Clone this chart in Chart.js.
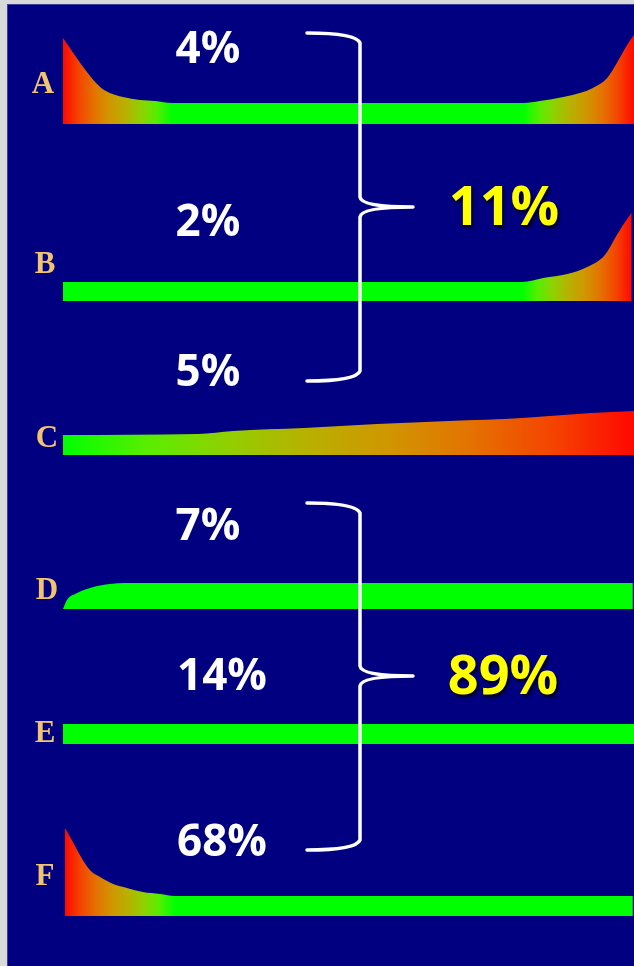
<!DOCTYPE html>
<html>
<head>
<meta charset="utf-8">
<script src="https://cdn.jsdelivr.net/npm/chart.js@4"></script>
<style>
    html, body { margin: 0; padding: 0; }
    body { width: 634px; height: 966px; background: #d9d9d9; position: relative; overflow: hidden; }
    #panel { position: absolute; left: 7px; top: 4px; width: 627px; height: 962px; background: #000080;
             border-left: 1px solid #3c3c9c; border-top: 1px solid #3c3c9c; box-sizing: border-box; }
    .band { position: absolute; left: 63px; }
    .letter { position: absolute; font-family: "Liberation Serif", "DejaVu Serif", serif; font-weight: bold;
              font-size: 31px; color: #f2c46e; transform: translate(-50%, -50%); line-height: 1; }
    .pct { position: absolute; font-family: "Open Sans", sans-serif; font-weight: bold; font-size: 44px;
           color: #ffffff; transform: translate(-50%, -50%); line-height: 1; }
    .total { position: absolute; font-family: "Open Sans", sans-serif; font-weight: bold; font-size: 54px;
             color: #ffff00; transform: translate(-50%, -50%); line-height: 1;
             text-shadow: 2px 3px 3px rgba(0, 0, 0, 0.7); }
    svg { position: absolute; left: 0; top: 0; }
</style>
</head>
<body>
<div id="panel"></div>
<div id="bands"></div>
<svg width="634" height="966">
    <path d="M307,33 Q356,33 360,43 L360,197 Q361,207 413,207 M413,207 Q361,207 360,217 L360,371 Q356,381 307,381"
          fill="none" stroke="#ffffff" stroke-width="3.5" stroke-linecap="round" stroke-linejoin="round"/>
    <path d="M307,503 Q356,503 360,513 L360,666 Q361,676 413,676 M413,676 Q361,676 360,686 L360,840 Q356,850 307,850"
          fill="none" stroke="#ffffff" stroke-width="3.5" stroke-linecap="round" stroke-linejoin="round"/>
</svg>
<div id="labels"></div>
<script>
    // band names and shares
    const bandNames = ["A", "B", "C", "D", "E", "F"];
    const bandShares = ["4%", "2%", "5%", "7%", "14%", "68%"];
    const groupTotals = ["11%", "89%"];

    // profile heights along each band (x = position in %, h = height)
    const aX = [0, 4.2, 6.5, 8.2, 10.5, 13.5, 16.1, 19.1, 80.6, 83.5, 87.6, 90.5, 92.8, 95.3, 97.0, 98.8, 100];
    const aH = [86, 52, 37, 31, 27, 24, 23, 21, 21, 23, 27, 31, 36, 46, 61, 79, 89];
    const bX = [0, 80.4, 84.1, 88.3, 91.8, 94.9, 97.0, 99.3, 99.6];
    const bH = [19, 19, 23, 27, 34, 46, 66, 86, 88];
    const cX = [0, 23.6, 29.8, 42.2, 55.0, 67.6, 80.4, 92.5, 100];
    const cH = [20, 21, 24, 27, 31, 34, 37, 42, 44];
    const dX = [0, 0.7, 2.5, 5.3, 8.2, 10.9, 99.8];
    const dH = [0, 9, 16, 22, 25, 26, 26];
    const eX = [-0.35, 100];
    const eH = [20, 20];
    const fX = [0.35, 4.7, 6.5, 8.8, 11.2, 14.0, 17.0, 19.6, 99.8];
    const fH = [88, 46, 39, 32, 28, 24, 22, 20, 20];

    // colour ramps: [x where red, x where green]
    const aRamps = [[0, 19.1], [100, 80.6]];
    const bRamps = [[99.6, 80.4]];
    const cRamps = [[100, 0]];
    const fRamps = [[0.35, 19.6]];

    const palette = ["#ff0800", "#f44400", "#e47200", "#d09600", "#b8b000", "#90d000", "#56ee00", "#00ff00"];
    const Y_MAX = 92;

    const bands = [
        { name: bandNames[0], xs: aX, hs: aH, ramps: aRamps, base: 124 },
        { name: bandNames[1], xs: bX, hs: bH, ramps: bRamps, base: 301 },
        { name: bandNames[2], xs: cX, hs: cH, ramps: cRamps, base: 455 },
        { name: bandNames[3], xs: dX, hs: dH, ramps: [], base: 609 },
        { name: bandNames[4], xs: eX, hs: eH, ramps: [], base: 744 },
        { name: bandNames[5], xs: fX, hs: fH, ramps: fRamps, base: 916 }
    ];

    function makeFill(ramps) {
        if (!ramps.length) return "#00ff00";
        return (context) => {
            const chart = context.chart;
            if (!chart.chartArea) return "#00ff00";
            const xs = chart.scales.x;
            const x0 = xs.getPixelForValue(0);
            const x1 = xs.getPixelForValue(100);
            const g = chart.ctx.createLinearGradient(x0, 0, x1, 0);
            // outside the ramps the gradient clamps to the nearest stop (green)
            ramps.forEach(([red, green]) => {
                palette.forEach((col, i) => {
                    const pos = red + (green - red) * i / (palette.length - 1);
                    g.addColorStop(Math.min(1, Math.max(0, pos / 100)), col);
                });
            });
            return g;
        };
    }

    const bandsEl = document.getElementById("bands");
    bands.forEach(b => {
        const canvas = document.createElement("canvas");
        canvas.className = "band";
        canvas.width = 571;
        canvas.height = Y_MAX;
        canvas.style.top = (b.base - Y_MAX) + "px";
        bandsEl.appendChild(canvas);

        new Chart(canvas.getContext("2d"), {
            type: "line",
            data: {
                datasets: [{
                    label: b.name,
                    data: b.xs.map((x, i) => ({ x, y: b.hs[i] })),
                    fill: "origin",
                    backgroundColor: makeFill(b.ramps),
                    borderWidth: 0,
                    pointRadius: 0,
                    cubicInterpolationMode: "monotone"
                }]
            },
            options: {
                responsive: false,
                animation: false,
                layout: { padding: 0 },
                plugins: { legend: { display: false }, tooltip: { enabled: false } },
                scales: {
                    x: { type: "linear", min: 0, max: 100, display: false },
                    y: { min: 0, max: Y_MAX, display: false }
                }
            }
        });
    });

    // text labels
    const labelsEl = document.getElementById("labels");
    const letterPos = [[43, 82], [45, 262], [47, 436], [47, 588], [45, 731], [45, 874]];
    const sharePos = [[208, 46], [208, 219], [208, 369], [208, 523], [222, 673], [222, 839]];
    const totalPos = [[504, 204], [503, 673]];

    function addText(cls, text, [x, y]) {
        const el = document.createElement("div");
        el.className = cls;
        el.textContent = text;
        el.style.left = x + "px";
        el.style.top = y + "px";
        labelsEl.appendChild(el);
    }

    bandNames.forEach((n, i) => addText("letter", n, letterPos[i]));
    bandShares.forEach((s, i) => addText("pct", s, sharePos[i]));
    groupTotals.forEach((t, i) => addText("total", t, totalPos[i]));
</script>
</body>
</html>
